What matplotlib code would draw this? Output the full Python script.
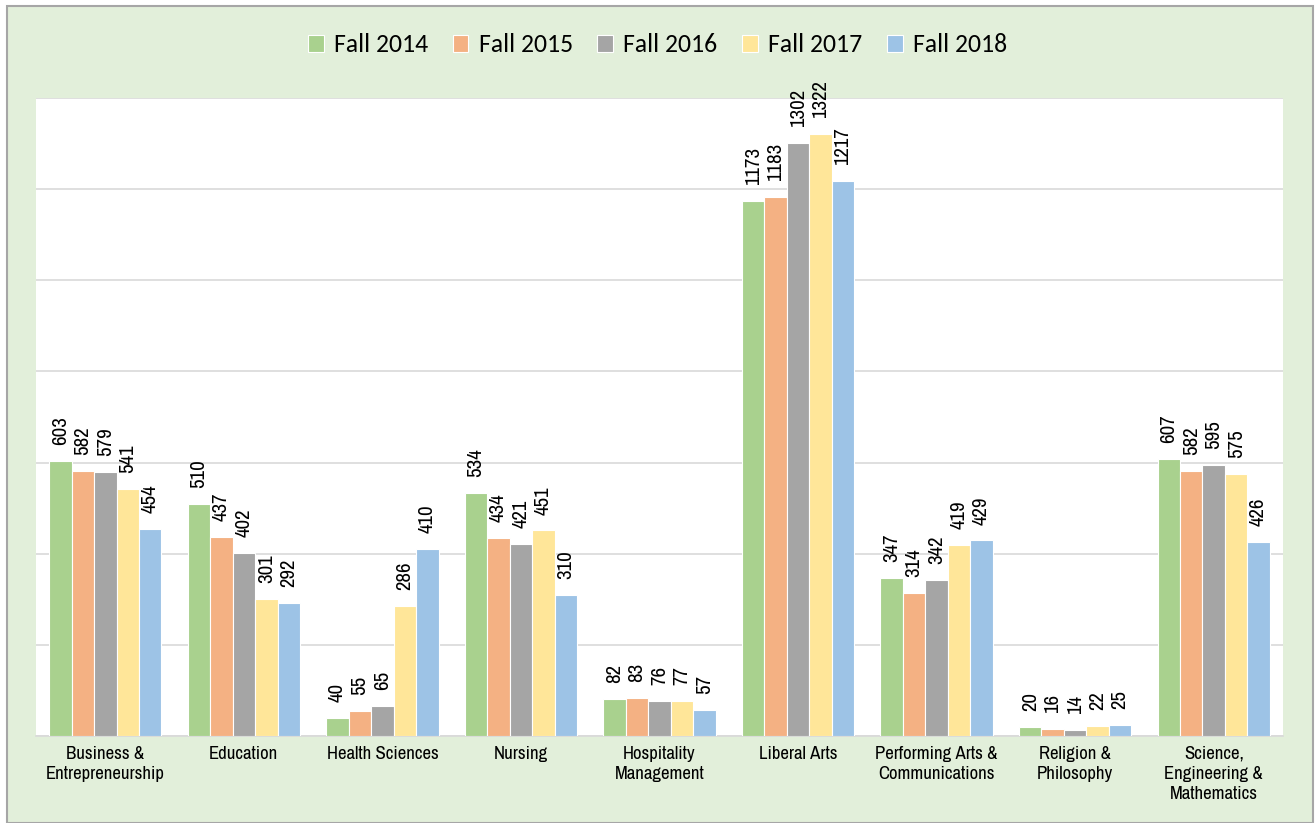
import matplotlib
matplotlib.use("Agg")
import matplotlib.pyplot as plt
from matplotlib.patches import Rectangle
import numpy as np

categories = [
    "Business &\nEntrepreneurship",
    "Education",
    "Health Sciences",
    "Nursing",
    "Hospitality\nManagement",
    "Liberal Arts",
    "Performing Arts &\nCommunications",
    "Religion &\nPhilosophy",
    "Science,\nEngineering &\nMathematics",
]
series_names = ["Fall 2014", "Fall 2015", "Fall 2016", "Fall 2017", "Fall 2018"]
fall_2014 = [603, 510, 40, 534, 82, 1173, 347, 20, 607]
fall_2015 = [582, 437, 55, 434, 83, 1183, 314, 16, 582]
fall_2016 = [579, 402, 65, 421, 76, 1302, 342, 14, 595]
fall_2017 = [541, 301, 286, 451, 77, 1322, 419, 22, 575]
fall_2018 = [454, 292, 410, 310, 57, 1217, 429, 25, 426]
series_values = [fall_2014, fall_2015, fall_2016, fall_2017, fall_2018]
colors = ["#A9D18E", "#F4B183", "#A5A5A5", "#FFE699", "#9DC3E6"]

narrow = ["Archivo Narrow", "Liberation Sans", "DejaVu Sans"]
legend_font = ["Carlito", "DejaVu Sans"]

W, H = 1315, 823
fig = plt.figure(figsize=(W / 100, H / 100), dpi=100, facecolor="white")

# chart area background with border on left/top
fig.patches.append(Rectangle((7 / W, 0), (1313 - 7) / W, (H - 6) / H,
                             transform=fig.transFigure, facecolor="#E2EFDA",
                             edgecolor="#A6A6A6", linewidth=1.5, zorder=0))

ax = fig.add_axes([36 / W, (H - 736) / H, (1283 - 36) / W, (736 - 98) / H])
ax.set_facecolor("white")
ax.set_zorder(1)

n = len(categories)
x = np.arange(n)
bar_w = 0.162
for i, (vals, col, name) in enumerate(zip(series_values, colors, series_names)):
    pos = x + (i - 2) * bar_w
    bars = ax.bar(pos, vals, width=bar_w, color=col, edgecolor="white",
                  linewidth=0.8, label=name, zorder=3)
    for b, v in zip(bars, vals):
        ax.annotate(str(v), (b.get_x() + b.get_width() / 2, v),
                    xytext=(0, 11.5), textcoords="offset points", rotation=90,
                    ha="center", va="bottom", fontsize=15, family=narrow,
                    color="#000000", zorder=4)

ax.set_xlim(-0.5, n - 0.5)
ax.set_ylim(0, 1400)
ax.set_yticks(np.arange(0, 1401, 200))
ax.yaxis.grid(True, color="#D9D9D9", linewidth=1.2, zorder=0)
ax.set_yticklabels([])
ax.tick_params(axis="y", length=0)
ax.set_xticks(x)
ax.set_xticklabels(categories, fontsize=13.5, family=narrow, color="#000000",
                   linespacing=1.32)
ax.tick_params(axis="x", length=0, pad=7)
for s in ["left", "right", "top"]:
    ax.spines[s].set_visible(False)
ax.spines["bottom"].set_color("#D9D9D9")
ax.spines["bottom"].set_linewidth(1.2)

fig.legend(loc="center", bbox_to_anchor=(0.5, 1 - 45 / H), ncol=5,
           frameon=False, prop={"family": legend_font, "size": 18.5},
           handlelength=0.62, handleheight=0.62, handletextpad=0.4,
           columnspacing=0.95)

fig.savefig("out.png", dpi=100, facecolor=fig.get_facecolor())
